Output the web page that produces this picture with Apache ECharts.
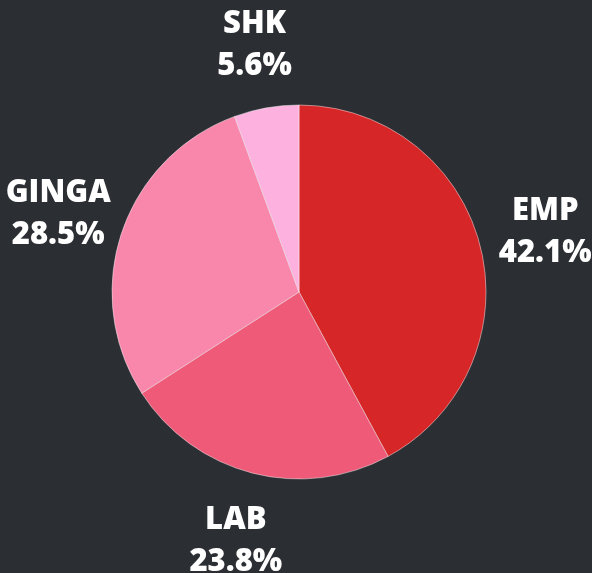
<!DOCTYPE html>
<html>
<head>
<meta charset="utf-8">
<script src="https://cdn.jsdelivr.net/npm/echarts@6/dist/echarts.min.js"></script>
<style>
  html, body { margin: 0; padding: 0; background: #2b2e33; }
  #chart { width: 592px; height: 573px; }
</style>
</head>
<body>
<div id="chart"></div>
<script>
(function (win) {
    var names = ['EMP', 'LAB', 'GINGA', 'SHK'],
        values = [42.1, 23.8, 28.5, 5.6],
        colors = ['#d62628', '#ee5a78', '#f987ab', '#fcb1de'];

    var chart = echarts.init(document.getElementById('chart'));

    var pieData = names.map(function (n, i) {
        return { name: n, value: values[i], itemStyle: { color: colors[i] } };
    });

    chart.setOption({
        backgroundColor: '#2b2e33',
        animation: false,
        series: [
            {
                type: 'pie',
                center: [299, 292],
                radius: [0, 187],
                startAngle: 90,
                clockwise: true,
                silent: true,
                itemStyle: {
                    borderColor: 'rgba(255,255,255,0.45)',
                    borderWidth: 1
                },
                label: { show: false },
                labelLine: { show: false },
                data: pieData
            },
            // transparent ring, only used to place the labels centred outside
            {
                type: 'pie',
                center: [299, 292],
                radius: [187, 315],
                startAngle: 90,
                clockwise: true,
                silent: true,
                itemStyle: { color: 'transparent', borderWidth: 0 },
                label: {
                    show: true,
                    position: 'inside',
                    formatter: function (p) {
                        return p.name + '\n' + p.value.toFixed(1) + '%';
                    },
                    color: '#ffffff',
                    fontFamily: 'Open Sans',
                    fontWeight: 800,
                    fontSize: 31,
                    lineHeight: 42,
                    align: 'center',
                    offset: [0, 3]
                },
                labelLine: { show: false },
                data: names.map(function (n, i) {
                    return { name: n, value: values[i] };
                })
            }
        ]
    });
})(this);
</script>
</body>
</html>
